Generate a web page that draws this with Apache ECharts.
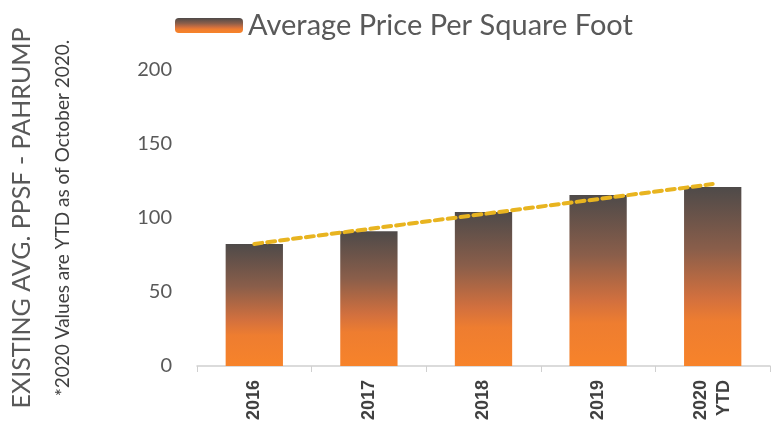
<!DOCTYPE html>
<html>
<head>
<meta charset="utf-8">
<script src="https://cdn.jsdelivr.net/npm/echarts@6/dist/echarts.min.js"></script>
<style>
    html, body { margin: 0; padding: 0; background: #fff; }
    #chart { width: 777px; height: 431px; }
</style>
</head>
<body>
<div id="chart"></div>
<script>
// data
const years = ['2016', '2017', '2018', '2019', '2020\nYTD']
const avgPpsf = [82.5, 91, 104, 115.5, 121]
const trendLine = [82.5, 92.6, 102.7, 112.8, 122.9]
const yTicks = [0, 50, 100, 150, 200]

let chart = echarts.init(document.getElementById('chart'))

// orange bars fading to dark grey at the top
let barFill = new echarts.graphic.LinearGradient(0, 0, 0, 1, [
    { offset: 0, color: '#4e4a49' },
    { offset: 0.35, color: '#8a5e4a' },
    { offset: 0.62, color: '#d2703e' },
    { offset: 0.75, color: '#ee7d30' },
    { offset: 1, color: '#f7832a' }
])

chart.setOption({
    animation: false,
    textStyle: { fontFamily: 'Lato' },
    grid: {
        left: 197,
        right: 7,
        top: 70,
        bottom: 65
    },
    legend: {
        data: ['Average Price Per Square Foot'],
        top: 6,
        left: 170,
        itemWidth: 68,
        itemHeight: 15,
        itemGap: 8,
        textStyle: { fontSize: 29, color: '#595959', fontFamily: 'Lato' }
    },
    graphic: [
        {
            type: 'text',
            x: 22,
            y: 218,
            rotation: Math.PI / 2,
            style: {
                text: 'EXISTING AVG. PPSF - PAHRUMP',
                fontSize: 25,
                fontFamily: 'Lato',
                fill: '#595959',
                align: 'center',
                verticalAlign: 'middle'
            }
        },
        {
            type: 'text',
            x: 63,
            y: 218,
            rotation: Math.PI / 2,
            style: {
                text: '*2020 Values are YTD as of October 2020.',
                fontSize: 19,
                fontFamily: 'Lato',
                fill: '#404040',
                align: 'center',
                verticalAlign: 'middle'
            }
        }
    ],
    xAxis: {
        type: 'category',
        data: years,
        axisLine: { lineStyle: { color: '#d0d0d0', width: 1.5 } },
        axisTick: { show: true, length: 6, lineStyle: { color: '#d0d0d0' } },
        axisLabel: {
            rotate: 90,
            margin: 14,
            fontSize: 18,
            fontWeight: 'bold',
            color: '#404040',
            fontFamily: 'Liberation Sans',
            lineHeight: 23
        }
    },
    yAxis: {
        type: 'value',
        min: yTicks[0],
        max: yTicks[yTicks.length - 1],
        interval: 50,
        splitLine: { show: false },
        axisLine: { show: false },
        axisTick: { show: false },
        axisLabel: {
            fontSize: 20,
            color: '#595959',
            margin: 25,
            fontFamily: 'Lato'
        }
    },
    series: [
        {
            name: 'Average Price Per Square Foot',
            type: 'bar',
            barWidth: '50%',
            data: avgPpsf,
            itemStyle: { color: barFill }
        },
        {
            name: 'Trend',
            type: 'line',
            data: trendLine,
            symbol: 'none',
            z: 5,
            lineStyle: {
                color: '#e8b420',
                width: 4,
                type: [8, 5],
                cap: 'round'
            }
        }
    ]
})
</script>
</body>
</html>
